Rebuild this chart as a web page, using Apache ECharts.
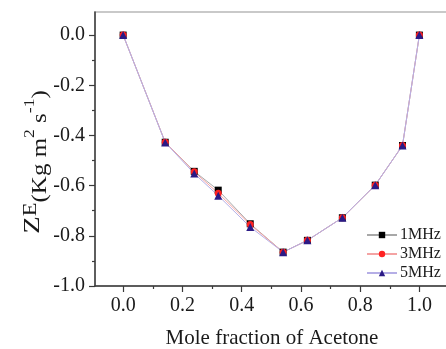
<!DOCTYPE html>
<html>
<head>
<meta charset="utf-8">
<script src="https://cdn.jsdelivr.net/npm/echarts@6/dist/echarts.min.js"></script>
<style>
  html, body { margin: 0; padding: 0; background: #fff; }
  #chart { width: 446px; height: 349px; }
</style>
</head>
<body>
<div id="chart"></div>
<script>
const moleFraction = [0, 0.142, 0.24, 0.321, 0.429, 0.54, 0.622, 0.74, 0.851, 0.943, 1.0]
const ze1MHz = [0, -0.427, -0.543, -0.618, -0.752, -0.865, -0.818, -0.728, -0.598, -0.44, 0]
const ze3MHz = [0, -0.427, -0.545, -0.63, -0.755, -0.865, -0.818, -0.728, -0.598, -0.44, 0]
const ze5MHz = [0, -0.428, -0.552, -0.64, -0.765, -0.865, -0.818, -0.728, -0.598, -0.44, 0]

const xMajorTicks = [0, 0.2, 0.4, 0.6, 0.8, 1.0]
const xMinorTicks = [0.1, 0.3, 0.5, 0.7, 0.9]
const yMajorTicks = [-1.0, -0.8, -0.6, -0.4, -0.2, 0]
const yMinorTicks = [-0.9, -0.7, -0.5, -0.3, -0.1]

const serif = "'Liberation Serif', 'Times New Roman', serif"
const axisColor = '#3a3a3a'

const chart = echarts.init(document.getElementById('chart'))

function pairs(ys) {
  return moleFraction.map((x, i) => [x, ys[i]])
}

function makeSeries(name, ys, symbol, size, markColor, lineColor) {
  return {
    name,
    type: 'line',
    data: pairs(ys),
    symbol,
    symbolSize: size,
    itemStyle: { color: markColor },
    lineStyle: { color: lineColor, width: 1 },
  }
}

chart.setOption({
  animation: false,
  grid: {
    left: 95,
    top: 12,
    width: 354,
    height: 274,
    outerBoundsMode: 'none',
    containLabel: false,
    show: true,
    borderColor: '#b8b8b8',
    borderWidth: 1.5,
  },
  legend: {
    orient: 'vertical',
    left: 361,
    top: 222,
    itemWidth: 30,
    itemHeight: 8,
    itemGap: 3,
    textStyle: { fontFamily: serif, fontSize: 16, color: '#1a1a1a', padding: [0, 0, 0, -2] },
    data: ['1MHz', '3MHz', '5MHz'],
  },
  xAxis: [
    {
      type: 'value',
      min: -0.095,
      max: 1.1,
      name: 'Mole fraction of Acetone',
      nameLocation: 'middle',
      nameGap: 42,
      nameTextStyle: { fontFamily: serif, fontSize: 21, color: '#1a1a1a' },
      splitLine: { show: false },
      axisLine: { onZero: false, lineStyle: { color: axisColor, width: 1.5 } },
      axisTick: { customValues: xMajorTicks, length: 6, lineStyle: { color: axisColor, width: 1.2 } },
      axisLabel: {
        customValues: xMajorTicks,
        margin: 10,
        fontFamily: serif,
        fontSize: 20,
        color: '#1a1a1a',
        formatter: (v) => v.toFixed(1),
      },
    },
    {
      type: 'value',
      min: -0.095,
      max: 1.1,
      position: 'bottom',
      splitLine: { show: false },
      axisLine: { show: false, onZero: false },
      axisTick: { customValues: xMinorTicks, length: 3, lineStyle: { color: axisColor, width: 1.2 } },
      axisLabel: { show: false },
    },
  ],
  yAxis: [
    {
      type: 'value',
      min: -1.0,
      max: 0.092,
      splitLine: { show: false },
      axisLine: { onZero: false, lineStyle: { color: axisColor, width: 1.5 } },
      axisTick: { customValues: yMajorTicks, length: 6, lineStyle: { color: axisColor, width: 1.2 } },
      axisLabel: {
        customValues: yMajorTicks,
        margin: 10,
        fontFamily: serif,
        fontSize: 20,
        color: '#1a1a1a',
        formatter: (v) => v.toFixed(1),
      },
    },
    {
      type: 'value',
      min: -1.0,
      max: 0.092,
      position: 'left',
      splitLine: { show: false },
      axisLine: { show: false, onZero: false },
      axisTick: { customValues: yMinorTicks, length: 3, lineStyle: { color: axisColor, width: 1.2 } },
      axisLabel: { show: false },
    },
  ],
  graphic: [
    {
      type: 'text',
      x: 36,
      y: 162,
      rotation: Math.PI / 2,
      scaleX: 1.25,
      style: {
        text: '{z|Z}{e|E}{m|(Kg m}{s|2}{m| s}{s|-1}{m|)}',
        align: 'center',
        verticalAlign: 'middle',
        fill: '#1a1a1a',
        rich: {
          z: { fontFamily: serif, fontSize: 23, verticalAlign: 'bottom', padding: [0, 0, 6, 0] },
          e: { fontFamily: serif, fontSize: 18, verticalAlign: 'bottom', padding: [0, 0, 10, 0] },
          m: { fontFamily: serif, fontSize: 20, verticalAlign: 'bottom' },
          s: { fontFamily: serif, fontSize: 14, verticalAlign: 'bottom', padding: [0, 0, 13, 0] },
        },
      },
    },
  ],
  series: [
    makeSeries('1MHz', ze1MHz, 'rect', 7, '#000000', '#a8a8a8'),
    makeSeries('3MHz', ze3MHz, 'circle', 7, '#ff2222', '#f4a3a3'),
    makeSeries('5MHz', ze5MHz, 'triangle', 8, '#2b1a86', '#b5aee6'),
  ],
})
</script>
</body>
</html>
